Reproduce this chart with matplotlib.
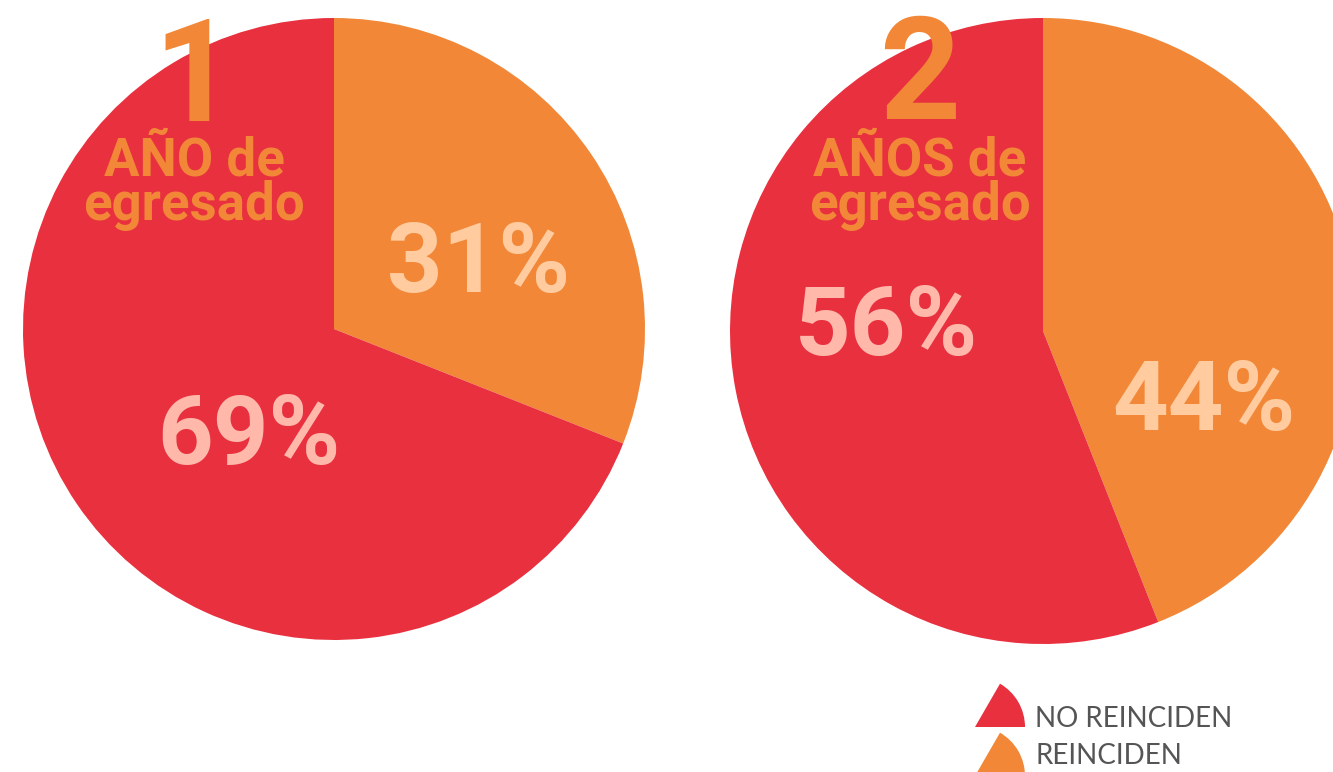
import matplotlib.pyplot as plt
from matplotlib.patches import Wedge

# Colours
RED = '#E8303F'
ORANGE = '#F18737'
PALE_ON_RED = '#FFB8AA'
PALE_ON_ORANGE = '#FFCB9F'

# Data
categories = ['REINCIDEN', 'NO REINCIDEN']
year1_values = [31, 69]
year2_values = [44, 56]
year1_title = ['1', 'AÑO de\negresado']
year2_title = ['2', 'AÑOS de\negresado']
legend_labels = ['NO REINCIDEN', 'REINCIDEN']

W, H = 1333, 772
fig = plt.figure(figsize=(W / 100, H / 100), dpi=100)
ax = fig.add_axes([0, 0, 1, 1])

# pies, one per period (coords in pixels, y up)
def draw_pie(values, center, radius, title, label_pos):
    ax.pie(values, colors=[ORANGE, RED], startangle=90, counterclock=False,
           center=center, radius=radius, wedgeprops=dict(linewidth=0))
    cx = label_pos['title_x']
    ax.text(cx, label_pos['num_y'], title[0], color=ORANGE, fontsize=102,
            fontweight='bold', family='Roboto', ha='center', va='baseline')
    ax.text(cx, label_pos['sub_y'], title[1], color=ORANGE, fontsize=38,
            fontweight='bold', family='Roboto', ha='center', va='top',
            linespacing=0.84, multialignment='center')
    (ox, oy), (rx, ry) = label_pos['pct']
    ax.text(ox, oy, f'{values[0]}%', color=PALE_ON_ORANGE, fontsize=70,
            fontweight='bold', family='Roboto', ha='center', va='baseline')
    ax.text(rx, ry, f'{values[1]}%', color=PALE_ON_RED, fontsize=70,
            fontweight='bold', family='Roboto', ha='center', va='baseline')

draw_pie(year1_values, (334, 443), 311, year1_title,
         dict(title_x=194, num_y=651, sub_y=637,
              pct=((479, 480), (249, 308))))
draw_pie(year2_values, (1043, 441), 313, year2_title,
         dict(title_x=920, num_y=653, sub_y=637,
              pct=((1204, 342), (887, 417))))

# legend with little wedge icons
for i, (lab, col, wy, ty) in enumerate(zip(legend_labels, [RED, ORANGE],
                                          [45, -4], [45, 8])):
    ax.add_patch(Wedge((975, wy), 50, 0, 60, facecolor=col, edgecolor='none'))
    ax.text(1035, ty, lab, color='#555555', fontsize=20, family='Lato',
            ha='left', va='baseline')

ax.set_xlim(0, W)
ax.set_ylim(0, H)
ax.set_aspect('auto')
ax.axis('off')

fig.savefig('out.png', dpi=100)
